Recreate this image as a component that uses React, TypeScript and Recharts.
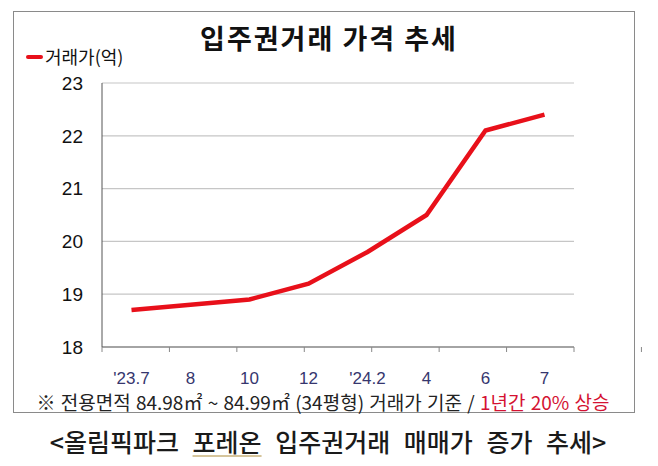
import React from 'react';
import { LineChart, Line, XAxis, YAxis, CartesianGrid } from 'recharts';

// 거래 시점 (x축 라벨)
const months = ["'23.7", '8', '10', '12', "'24.2", '4', '6', '7'];
// 거래가 (억원)
const prices = [18.7, 18.8, 18.9, 19.2, 19.8, 20.5, 22.1, 22.4];
const yTicks = [18, 19, 20, 21, 22, 23];
const boundaryTicks = [0, 1, 2, 3, 4, 5, 6, 7, 8];

const data = months.map((m, i) => ({ month: m, price: prices[i] }));

const KR = '"Noto Sans CJK KR", "Noto Sans", sans-serif';
const NUM = '"Liberation Sans", Arial, sans-serif';

const EmptyTick = () => <g />;

export default function App() {
  return (
    <div style={{ position: 'absolute', left: 0, top: 0, width: 658, height: 466, background: '#fff', fontFamily: KR }}>
      {/* 테두리 박스 */}
      <div style={{ position: 'absolute', left: 13, top: 11, width: 622, height: 402, border: '1px solid #8a8a8a', boxSizing: 'border-box' }} />

      <div style={{ position: 'absolute', left: 0, width: 658, top: 18, textAlign: 'center', fontSize: 27, fontWeight: 700, letterSpacing: 2, color: '#111', lineHeight: '40px' }}>
        입주권거래 가격 추세
      </div>

      {/* 범례 */}
      <div style={{ position: 'absolute', left: 26, top: 55, width: 17, height: 4, borderRadius: 2, background: '#e8101a' }} />
      <div style={{ position: 'absolute', left: 45, top: 44, fontSize: 18, color: '#111', lineHeight: '24px' }}>거래가(억)</div>

      <div style={{ position: 'absolute', left: 0, top: 0 }}>
        <LineChart width={658} height={420} data={data} margin={{ top: 83, right: 84, left: 0, bottom: 37 }}>
          <CartesianGrid horizontal vertical={false} stroke="#c6c6c6" strokeWidth={1.2} xAxisId={0} />
          <XAxis
            xAxisId={0}
            type="number"
            domain={[0, 8]}
            ticks={boundaryTicks}
            allowDataOverflow
            tick={EmptyTick}
            tickSize={5}
            height={6}
            axisLine={{ stroke: '#666' }}
            tickLine={{ stroke: '#888' }}
          />
          <XAxis
            xAxisId="lab"
            dataKey="month"
            type="category"
            scale="band"
            height={30}
            axisLine={false}
            tickLine={false}
            tickMargin={13}
            interval={0}
            tick={{ fill: '#36366e', fontSize: 17, fontFamily: NUM }}
          />
          <YAxis
            domain={[18, 23]}
            ticks={yTicks}
            width={102}
            tickLine={false}
            tickMargin={13}
            axisLine={{ stroke: '#555' }}
            tick={{ fill: '#111', fontSize: 19, fontFamily: NUM }}
          />
          <Line
            xAxisId="lab"
            type="linear"
            dataKey="price"
            stroke="#e8101a"
            strokeWidth={4.5}
            dot={false}
            isAnimationActive={false}
          />
        </LineChart>
      </div>

      {/* 주석 */}
      <div style={{ position: 'absolute', left: -6, width: 658, top: 389, textAlign: 'center', fontSize: 19, color: '#222', lineHeight: '26px', whiteSpace: 'nowrap', wordSpacing: 1 }}>
        ※ 전용면적 84.98㎡ ~ 84.99㎡ (34평형) 거래가 기준 / <span style={{ color: '#d41232' }}>1년간 20% 상승</span>
      </div>

      <div style={{ position: 'absolute', left: -1, width: 658, top: 424, textAlign: 'center', fontSize: 25, fontWeight: 500, color: '#1a1a1a', lineHeight: '34px', whiteSpace: 'nowrap', wordSpacing: 8 }}>
        &lt;올림픽파크 <span style={{ textDecoration: 'underline', textDecorationColor: '#d6c59c', textUnderlineOffset: 3 }}>포레온</span> 입주권거래 매매가 증가 추세&gt;
      </div>
    </div>
  );
}
